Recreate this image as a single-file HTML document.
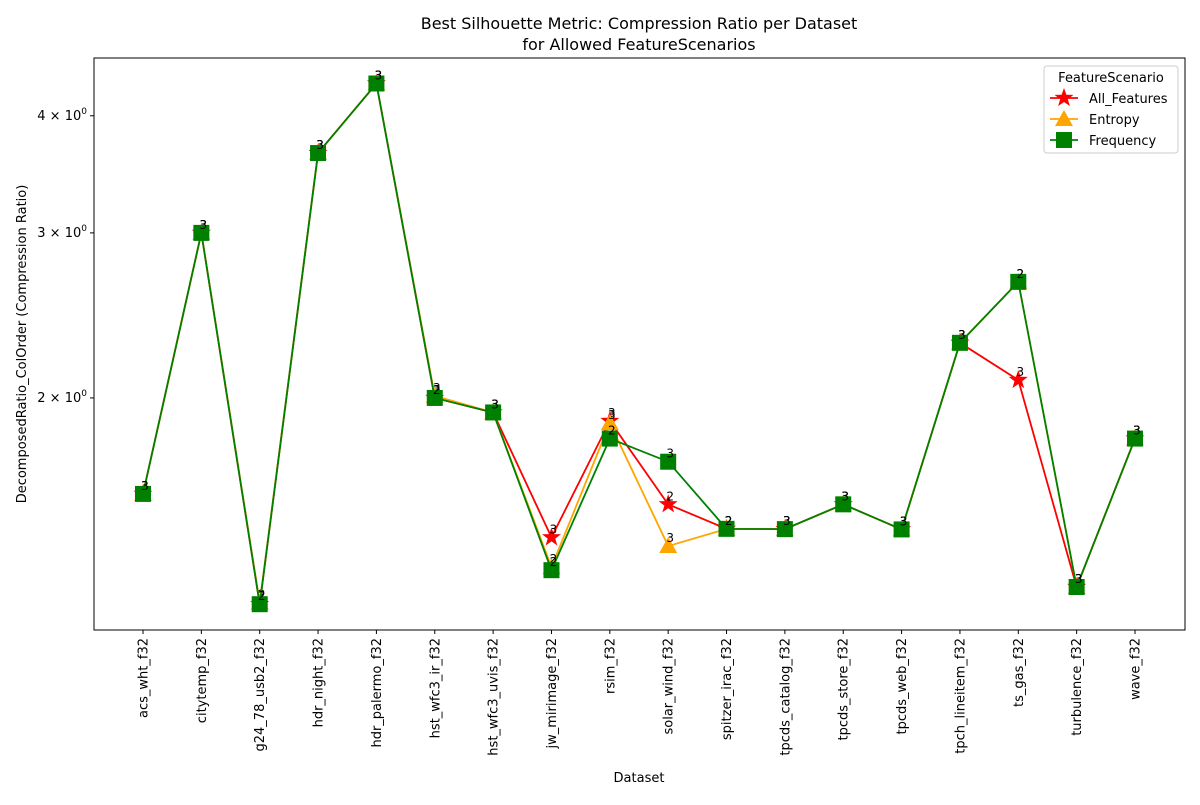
<!DOCTYPE html>
<html><head><meta charset="utf-8"><style>
body{margin:0;background:#fff}
text{font-family:"DejaVu Sans","Liberation Sans",sans-serif}
</style></head><body>
<svg id="c" width="1200" height="800" xmlns="http://www.w3.org/2000/svg"></svg>
<script>
const categories=["acs_wht_f32","citytemp_f32","g24_78_usb2_f32","hdr_night_f32","hdr_palermo_f32","hst_wfc3_ir_f32","hst_wfc3_uvis_f32","jw_mirimage_f32","rsim_f32","solar_wind_f32","spitzer_irac_f32","tpcds_catalog_f32","tpcds_store_f32","tpcds_web_f32","tpch_lineitem_f32","ts_gas_f32","turbulence_f32","wave_f32"];
const allFeatures=[1.58,3.0,1.205,3.65,4.33,2.0,1.93,1.42,1.89,1.54,1.45,1.449,1.54,1.448,2.29,2.09,1.257,1.81];
const entropy=[1.58,3.0,1.21,3.65,4.33,2.01,1.93,1.32,1.88,1.39,1.45,1.449,1.54,1.448,2.29,2.66,1.257,1.81];
const frequency=[1.58,3.0,1.205,3.65,4.33,2.0,1.93,1.31,1.81,1.71,1.45,1.449,1.54,1.448,2.29,2.66,1.257,1.81];
const labelsAll=[3,3,2,3,3,3,3,3,3,2,2,3,3,3,3,3,3,3];
const labelsEnt=[3,3,2,3,3,3,3,2,3,3,2,3,3,3,3,2,3,3];
const labelsFreq=[3,3,2,3,3,2,3,2,2,3,2,3,3,3,3,2,3,3];
const yTicks=[2,3,4];
const yTickLabels=["2","3","4"];
const X0=94,X1=1185,Y0=58,Y1=630,ymin=1.131,ymax=4.61;
const svg=document.getElementById('c');const NS="http://www.w3.org/2000/svg";
function xs(i){return 143+i*(1135-143)/(categories.length-1);}
function ys(v){return Y1-(Math.log(v)-Math.log(ymin))/(Math.log(ymax)-Math.log(ymin))*(Y1-Y0);}
function el(t,a,p){const e=document.createElementNS(NS,t);for(const k in a)e.setAttribute(k,a[k]);(p||svg).appendChild(e);return e;}
function tx(s,a,p){const e=el('text',a,p);e.textContent=s;return e;}
let g=el('g',{});
tx("Best Silhouette Metric: Compression Ratio per Dataset",{x:639,y:29,'font-size':16,'text-anchor':'middle'},g);
tx("for Allowed FeatureScenarios",{x:639,y:50,'font-size':16,'text-anchor':'middle'},g);
categories.forEach((c,i)=>{const x=xs(i);el('line',{x1:x,x2:x,y1:Y1,y2:Y1+4,stroke:'#000'});
const t=tx(c,{x:0,y:0,'font-size':13,'text-anchor':'end',transform:`translate(${x+4.5},${Y1+8}) rotate(-90)`});
});
yTicks.forEach((v,i)=>{const y=ys(v);el('line',{x1:X0-4,x2:X0,y1:y,y2:y,stroke:'#000'});
const t=tx("",{x:X0-7,y:y+4,'font-size':13,'text-anchor':'end'});
t.innerHTML=yTickLabels[i]+" × 10<tspan font-size='9' dy='-6'>0</tspan>";
});
let xt=tx("Dataset",{x:639,y:782,'font-size':13,'text-anchor':'middle'});
let yt=tx("DecomposedRatio_ColOrder (Compression Ratio)",{x:0,y:0,'font-size':13,'text-anchor':'middle',transform:`translate(26,344) rotate(-90)`});
function star(cx,cy,r){let p=[];for(let k=0;k<10;k++){const a=-Math.PI/2+k*Math.PI/5,rr=k%2?r*0.4:r;p.push((cx+rr*Math.cos(a)).toFixed(1)+','+(cy+rr*Math.sin(a)).toFixed(1));}return p.join(' ');}
function marker(type,x,y,color,p){if(type==='star')return el('polygon',{points:star(x,y,10),fill:color},p);
if(type==='tri')return el('polygon',{points:`${x},${y-9} ${x-9},${y+7} ${x+9},${y+7}`,fill:color},p);
return el('rect',{x:x-8,y:y-8,width:16,height:16,fill:color},p);}
const series=[["all-features",allFeatures,labelsAll,'#ff0000','star'],["entropy",entropy,labelsEnt,'#ffa500','tri'],["frequency",frequency,labelsFreq,'#008000','sq']];
series.forEach(([n,vals,labs,col,m])=>{const sg=el('g',{});
el('polyline',{points:vals.map((v,i)=>xs(i)+','+ys(v)).join(' '),fill:'none',stroke:col,'stroke-width':1.8},sg);
vals.forEach((v,i)=>{const mk=marker(m,xs(i),ys(v),col,sg);
tx(String(labs[i]),{x:xs(i)+2,y:ys(v)-4,'font-size':12,'text-anchor':'middle'},sg);});});
el('rect',{x:X0,y:Y0,width:X1-X0,height:Y1-Y0,fill:'none',stroke:'#000','stroke-width':1});
const lg=el('g',{});
el('rect',{x:1044,y:66,width:134,height:87,rx:3,fill:'#fff',stroke:'#ccc'},lg);
tx("FeatureScenario",{x:1111,y:82,'font-size':13,'text-anchor':'middle'},lg);
series.forEach(([n,v,l,col,m],k)=>{const y=98+k*21;el('line',{x1:1050,x2:1078,y1:y,y2:y,stroke:col,'stroke-width':1.8},lg);marker(m,1064,y,col,lg);
const t=tx(["All_Features","Entropy","Frequency"][k],{x:1089,y:y+5,'font-size':13},lg);});
</script>
</body></html>
